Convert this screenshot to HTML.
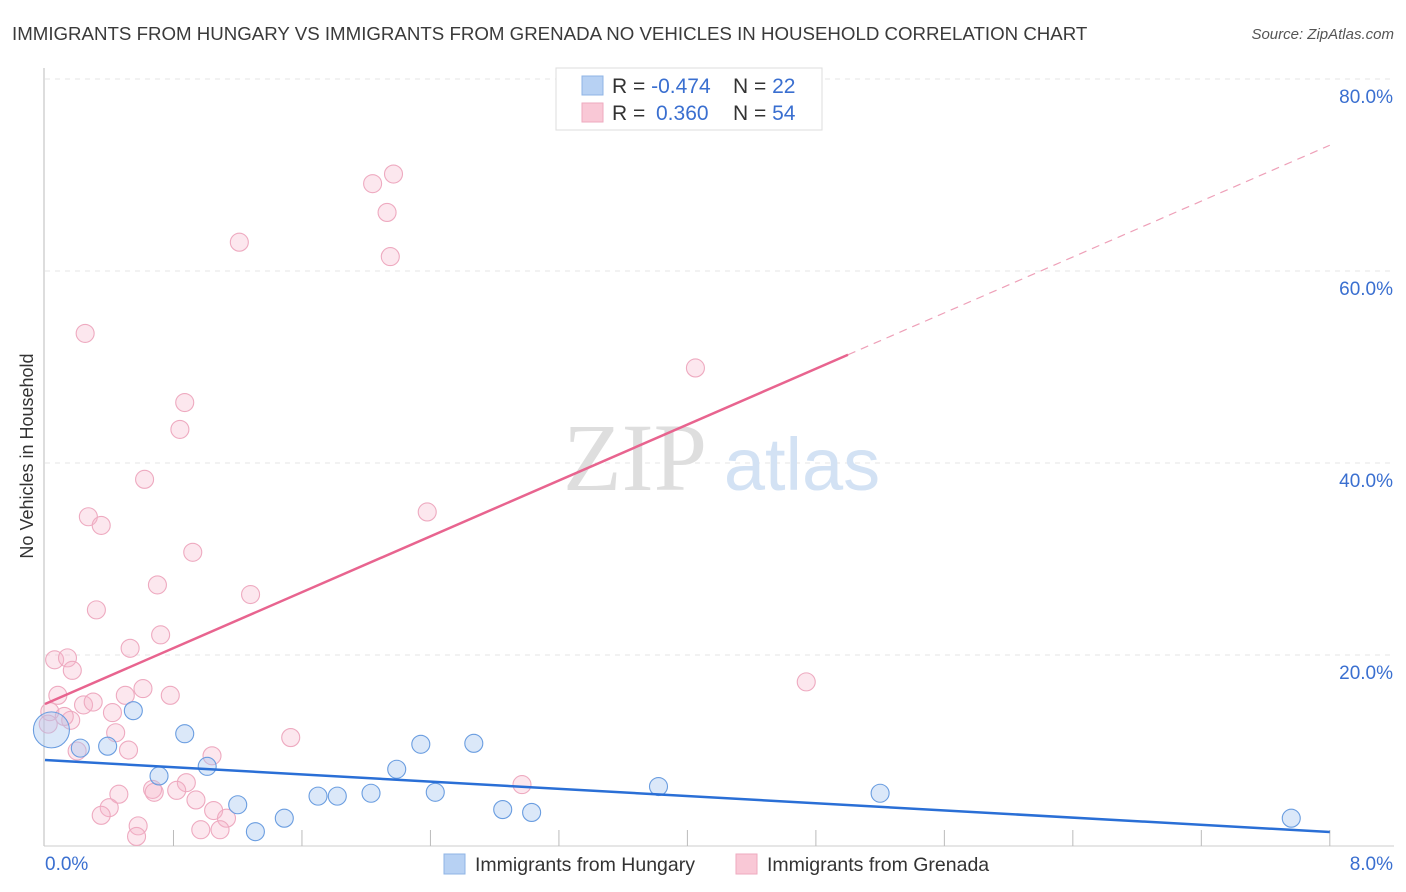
<!DOCTYPE html>
<html><head><meta charset="utf-8"><style>
body{margin:0;background:#fff;font-family:"Liberation Sans",sans-serif;}
svg{display:block}
</style></head><body>
<svg width="1406" height="892" xmlns="http://www.w3.org/2000/svg">
<text x="12" y="40" font-size="18.7" fill="#3a3a3a">IMMIGRANTS FROM HUNGARY VS IMMIGRANTS FROM GRENADA NO VEHICLES IN HOUSEHOLD CORRELATION CHART</text>
<text x="1394" y="39" font-size="15" fill="#555" font-style="italic" text-anchor="end">Source: ZipAtlas.com</text>
<g id="grid"></g>
<g><text x="635" y="490" font-size="96" fill="#dedede" font-family="Liberation Serif,serif" text-anchor="middle">ZIP</text><text x="802" y="490" font-size="74" fill="#d3e2f4" text-anchor="middle">atlas</text></g>
<g id="axes"></g>
<g id="pts"></g>
<g id="lines"></g>
<text x="33" y="456" font-size="18" fill="#333" text-anchor="middle" transform="rotate(-90 33 456)">No Vehicles in Household</text>
<g>
<rect x="556" y="68" width="266" height="62" fill="#fff" stroke="#ddd"/>
<rect x="582" y="76" width="21" height="19" fill="#b7d1f3" stroke="#8fb4e6"/>
<rect x="582" y="103" width="21" height="19" fill="#f9c8d6" stroke="#eeaabf"/>
<text x="612" y="93" font-size="21" fill="#333">R = <tspan fill="#3a6fd0">-0.474</tspan></text>
<text x="733" y="93" font-size="21" fill="#333">N = <tspan fill="#3a6fd0">22</tspan></text>
<text x="612" y="120" font-size="21" fill="#333">R = <tspan fill="#3a6fd0" x="656">0.360</tspan></text>
<text x="733" y="120" font-size="21" fill="#333">N = <tspan fill="#3a6fd0">54</tspan></text>
</g>
<g><rect x="444" y="854" width="21" height="20" fill="#b7d1f3" stroke="#8fb4e6"/><text x="475" y="871" font-size="19.5" fill="#333">Immigrants from Hungary</text></g>
<g><rect x="736" y="854" width="21" height="20" fill="#f9c8d6" stroke="#eeaabf"/><text x="767" y="871" font-size="19.5" fill="#333">Immigrants from Grenada</text></g>
</svg>
<script>
const yTicks=[20,40,60,80];
const yTickLabels=["20.0%","40.0%","60.0%","80.0%"];
const xTickLabels=["0.0%","8.0%"];
const hungaryX=[0.04,0.22,0.39,0.55,0.71,0.87,1.01,1.20,1.31,1.49,1.70,1.82,2.03,2.19,2.34,2.43,2.67,2.85,3.03,3.82,5.20,7.76];
const hungaryY=[12.2,10.3,10.5,14.2,7.4,11.8,8.4,4.4,1.6,3.0,5.3,5.3,5.6,8.1,10.7,5.7,10.8,3.9,3.6,6.3,5.6,3.0];
const grenadaX=[0.25,2.17,2.04,2.13,2.15,1.21,4.05,0.87,0.84,0.62,2.38,0.27,0.35,0.92,0.70,1.28,0.32,0.72,0.53,0.06,0.14,0.17,0.08,0.50,0.61,0.78,0.24,0.30,0.03,0.16,0.42,0.02,0.12,1.53,4.74,0.44,0.52,0.20,1.04,0.88,0.67,0.68,0.82,0.94,0.46,0.40,0.35,1.05,1.13,0.58,0.97,1.09,0.57,2.97];
const grenadaY=[53.5,70.1,69.1,66.1,61.5,63.0,49.9,46.3,43.5,38.3,34.9,34.4,33.5,30.7,27.3,26.3,24.7,22.1,20.7,19.5,19.7,18.4,15.8,15.8,16.5,15.8,14.8,15.1,14.1,13.2,14.0,12.8,13.6,11.4,17.2,11.9,10.1,10.0,9.5,6.7,6.0,5.7,5.9,4.9,5.5,4.1,3.3,3.8,3.0,2.2,1.8,1.8,1.1,6.5];
const hungaryTrend=[9.06,1.56];
const grenadaTrend=[14.9,73.1];
const NS='http://www.w3.org/2000/svg';
const X=v=>45+v*160.6, Y=v=>847-v*9.6;
function mk(t,a,p){const e=document.createElementNS(NS,t);for(const k in a)e.setAttribute(k,a[k]);p.appendChild(e);return e;}
const grid=document.getElementById('grid'),axes=document.getElementById('axes');
yTicks.forEach((t,i)=>{
 const l=mk('line',{x1:45,x2:1394,y1:Y(t),y2:Y(t),stroke:'#e6e6e6','stroke-dasharray':'5,5'},grid);
 
 
 const tx=mk('text',{x:1393,y:Y(t)+24,'font-size':19,fill:'#3a6fd0','text-anchor':'end'},axes);
 tx.textContent=yTickLabels[i];
 
 
});
mk('line',{x1:44,x2:44,y1:68,y2:846,stroke:'#bbb'},axes);
mk('line',{x1:44,x2:1394,y1:846,y2:846,stroke:'#ccc'},axes);
for(let i=1;i<=10;i++){const t=mk('line',{x1:X(i*0.8),x2:X(i*0.8),y1:830,y2:846,stroke:'#bbb'},axes);
 
 }
[[0,'start',45],[8,'end',1393]].forEach((d,i)=>{const t=mk('text',{x:d[2],y:870,'font-size':19,fill:'#3a6fd0','text-anchor':d[1]},axes);t.textContent=xTickLabels[i];
 
 });
const pts=document.getElementById('pts');
grenadaX.forEach((x,i)=>{const c=mk('circle',{cx:X(x),cy:Y(grenadaY[i]),r:9,fill:'rgba(246,180,202,0.32)',stroke:'#eeaac0','stroke-width':1.1},pts);
 
 });
hungaryX.forEach((x,i)=>{const c=mk('circle',{cx:X(x),cy:Y(hungaryY[i]),r:i==0?18:9,fill:'rgba(165,198,240,0.4)',stroke:'#6a9de0','stroke-width':1.1},pts);
 
 });
const lines=document.getElementById('lines');
let l=mk('line',{x1:X(0),y1:Y(hungaryTrend[0]),x2:X(8),y2:Y(hungaryTrend[1]),stroke:'#2a6fd6','stroke-width':2.5},lines);


const gAt=x=>grenadaTrend[0]+(grenadaTrend[1]-grenadaTrend[0])*x/8;
l=mk('line',{x1:X(0),y1:Y(gAt(0)),x2:X(5),y2:Y(gAt(5)),stroke:'#e8648f','stroke-width':2.5},lines);


l=mk('line',{x1:X(5),y1:Y(gAt(5)),x2:X(8),y2:Y(gAt(8)),stroke:'#eea0b8','stroke-width':1.2,'stroke-dasharray':'8,6'},lines);


</script>
</body></html>
